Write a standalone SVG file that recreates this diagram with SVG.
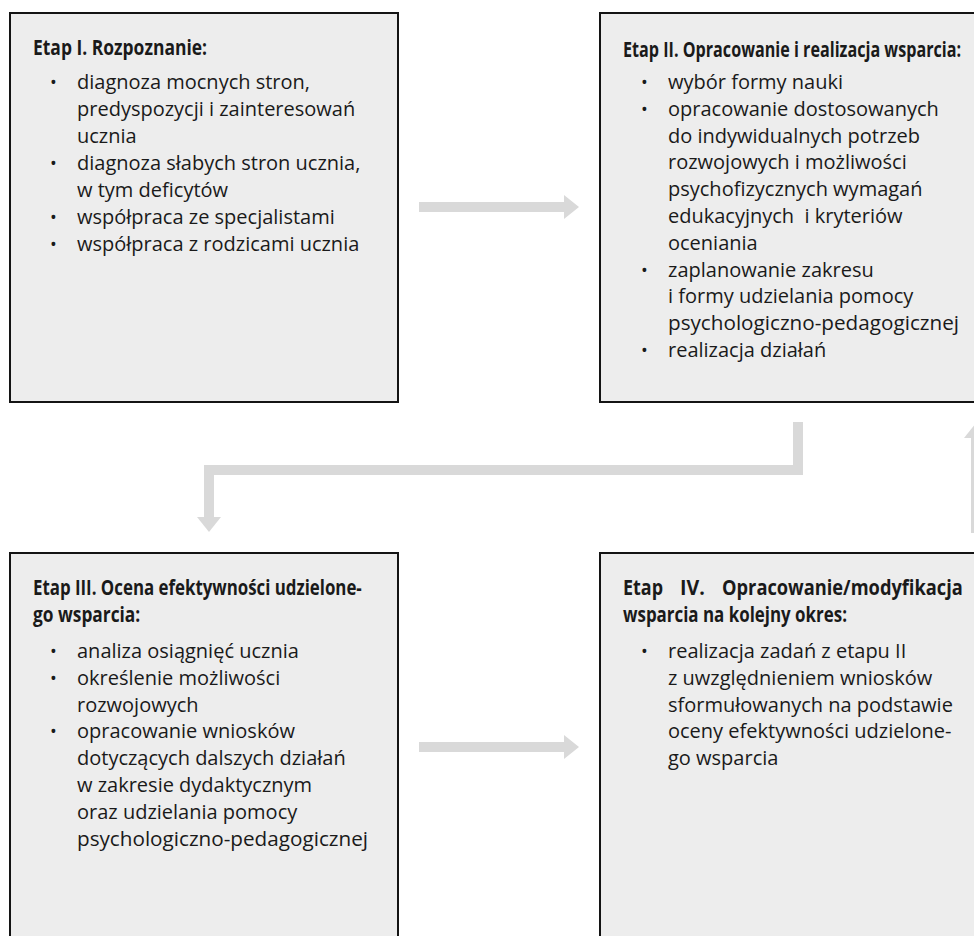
<svg xmlns="http://www.w3.org/2000/svg" width="974" height="936" viewBox="0 0 974 936">
<style>
.box{fill:#ededed;stroke:#141414;stroke-width:2}
.h{font-family:"Open Sans","Noto Sans",sans-serif;font-weight:700;font-size:22px;fill:#1a1a1a}
.t{font-family:"Open Sans","Noto Sans",sans-serif;font-size:20px;fill:#1a1a1a;white-space:pre}
.b{font-family:"Open Sans","Noto Sans",sans-serif;font-size:18px;fill:#1a1a1a}
.ln{fill:none;stroke:#d9d9d9;stroke-width:10;stroke-linejoin:miter;stroke-linecap:butt}
.hd{fill:#d9d9d9}
</style>
<rect width="974" height="936" fill="#ffffff"/>
<g id="connectors">
<path class="ln" d="M419,207 H564"/>
<polygon class="hd" points="564,195 579,207 564,219"/>
<path class="ln" d="M798,422 V470 H209 V517"/>
<polygon class="hd" points="197,517 221,517 209,532"/>
<path class="ln" d="M419,747 H564"/>
<polygon class="hd" points="564,735 579,747 564,759"/>
<path class="ln" d="M976,533 V438"/>
<polygon class="hd" points="964,438 988,438 976,423"/>
</g>
<g id="etap1">
<rect class="box" x="10" y="13" width="388" height="389"/>
<text class="h" transform="translate(33,55) scale(0.8,1)" textLength="217.5" lengthAdjust="spacingAndGlyphs">Etap I. Rozpoznanie:</text>
<text class="b" x="50" y="89">•</text>
<text class="t" x="77" y="89">diagnoza mocnych stron,</text>
<text class="t" x="77" y="116">predyspozycji i zainteresowań</text>
<text class="t" x="77" y="143">ucznia</text>
<text class="b" x="50" y="170">•</text>
<text class="t" x="77" y="170">diagnoza słabych stron ucznia,</text>
<text class="t" x="77" y="197">w tym deficytów</text>
<text class="b" x="50" y="224">•</text>
<text class="t" x="77" y="224">współpraca ze specjalistami</text>
<text class="b" x="50" y="251">•</text>
<text class="t" x="77" y="251">współpraca z rodzicami ucznia</text>
</g>
<g id="etap2">
<rect class="box" x="600" y="13" width="400" height="389"/>
<text class="h" transform="translate(623,57) scale(0.7,1)" textLength="483" lengthAdjust="spacingAndGlyphs">Etap II. Opracowanie i realizacja wsparcia:</text>
<text class="b" x="641" y="89">•</text>
<text class="t" x="668" y="89">wybór formy nauki</text>
<text class="b" x="641" y="115.8">•</text>
<text class="t" x="668" y="115.8">opracowanie dostosowanych</text>
<text class="t" x="668" y="142.6">do indywidualnych potrzeb</text>
<text class="t" x="668" y="169.4">rozwojowych i możliwości</text>
<text class="t" x="668" y="196.2">psychofizycznych wymagań</text>
<text class="t" x="668" y="223">edukacyjnych  i kryteriów</text>
<text class="t" x="668" y="249.8">oceniania</text>
<text class="b" x="641" y="276.6">•</text>
<text class="t" x="668" y="276.6">zaplanowanie zakresu</text>
<text class="t" x="668" y="303.4">i formy udzielania pomocy</text>
<text class="t" x="668" y="330.2" textLength="291" lengthAdjust="spacingAndGlyphs">psychologiczno-pedagogicznej</text>
<text class="b" x="641" y="357">•</text>
<text class="t" x="668" y="357">realizacja działań</text>
</g>
<g id="etap3">
<rect class="box" x="10" y="553" width="388" height="400"/>
<text class="h" transform="translate(33,595) scale(0.8,1)" textLength="411" lengthAdjust="spacingAndGlyphs">Etap III. Ocena efektywności udzielone-</text>
<text class="h" transform="translate(33,622) scale(0.8,1)" textLength="134" lengthAdjust="spacingAndGlyphs">go wsparcia:</text>
<text class="b" x="50" y="658">•</text>
<text class="t" x="77" y="658">analiza osiągnięć ucznia</text>
<text class="b" x="50" y="684.8">•</text>
<text class="t" x="77" y="684.8">określenie możliwości</text>
<text class="t" x="77" y="711.6">rozwojowych</text>
<text class="b" x="50" y="738.4">•</text>
<text class="t" x="77" y="738.4">opracowanie wniosków</text>
<text class="t" x="77" y="765.2">dotyczących dalszych działań</text>
<text class="t" x="77" y="792">w zakresie dydaktycznym</text>
<text class="t" x="77" y="818.8">oraz udzielania pomocy</text>
<text class="t" x="77" y="845.6" textLength="291" lengthAdjust="spacingAndGlyphs">psychologiczno-pedagogicznej</text>
</g>
<g id="etap4">
<rect class="box" x="600" y="553" width="400" height="400"/>
<text class="h" transform="translate(623,595) scale(0.8,1)" textLength="50" lengthAdjust="spacingAndGlyphs">Etap</text>
<text class="h" transform="translate(680,595) scale(0.8,1)" textLength="31" lengthAdjust="spacingAndGlyphs">IV.</text>
<text class="h" transform="translate(722,595) scale(0.8,1)" textLength="301" lengthAdjust="spacingAndGlyphs">Opracowanie/modyfikacja</text>
<text class="h" transform="translate(623,622) scale(0.8,1)" textLength="280" lengthAdjust="spacingAndGlyphs">wsparcia na kolejny okres:</text>
<text class="b" x="641" y="658">•</text>
<text class="t" x="668" y="658">realizacja zadań z etapu II</text>
<text class="t" x="668" y="684.8">z uwzględnieniem wniosków</text>
<text class="t" x="668" y="711.6">sformułowanych na podstawie</text>
<text class="t" x="668" y="738.4">oceny efektywności udzielone-</text>
<text class="t" x="668" y="765.2">go wsparcia</text>
</g>
</svg>
